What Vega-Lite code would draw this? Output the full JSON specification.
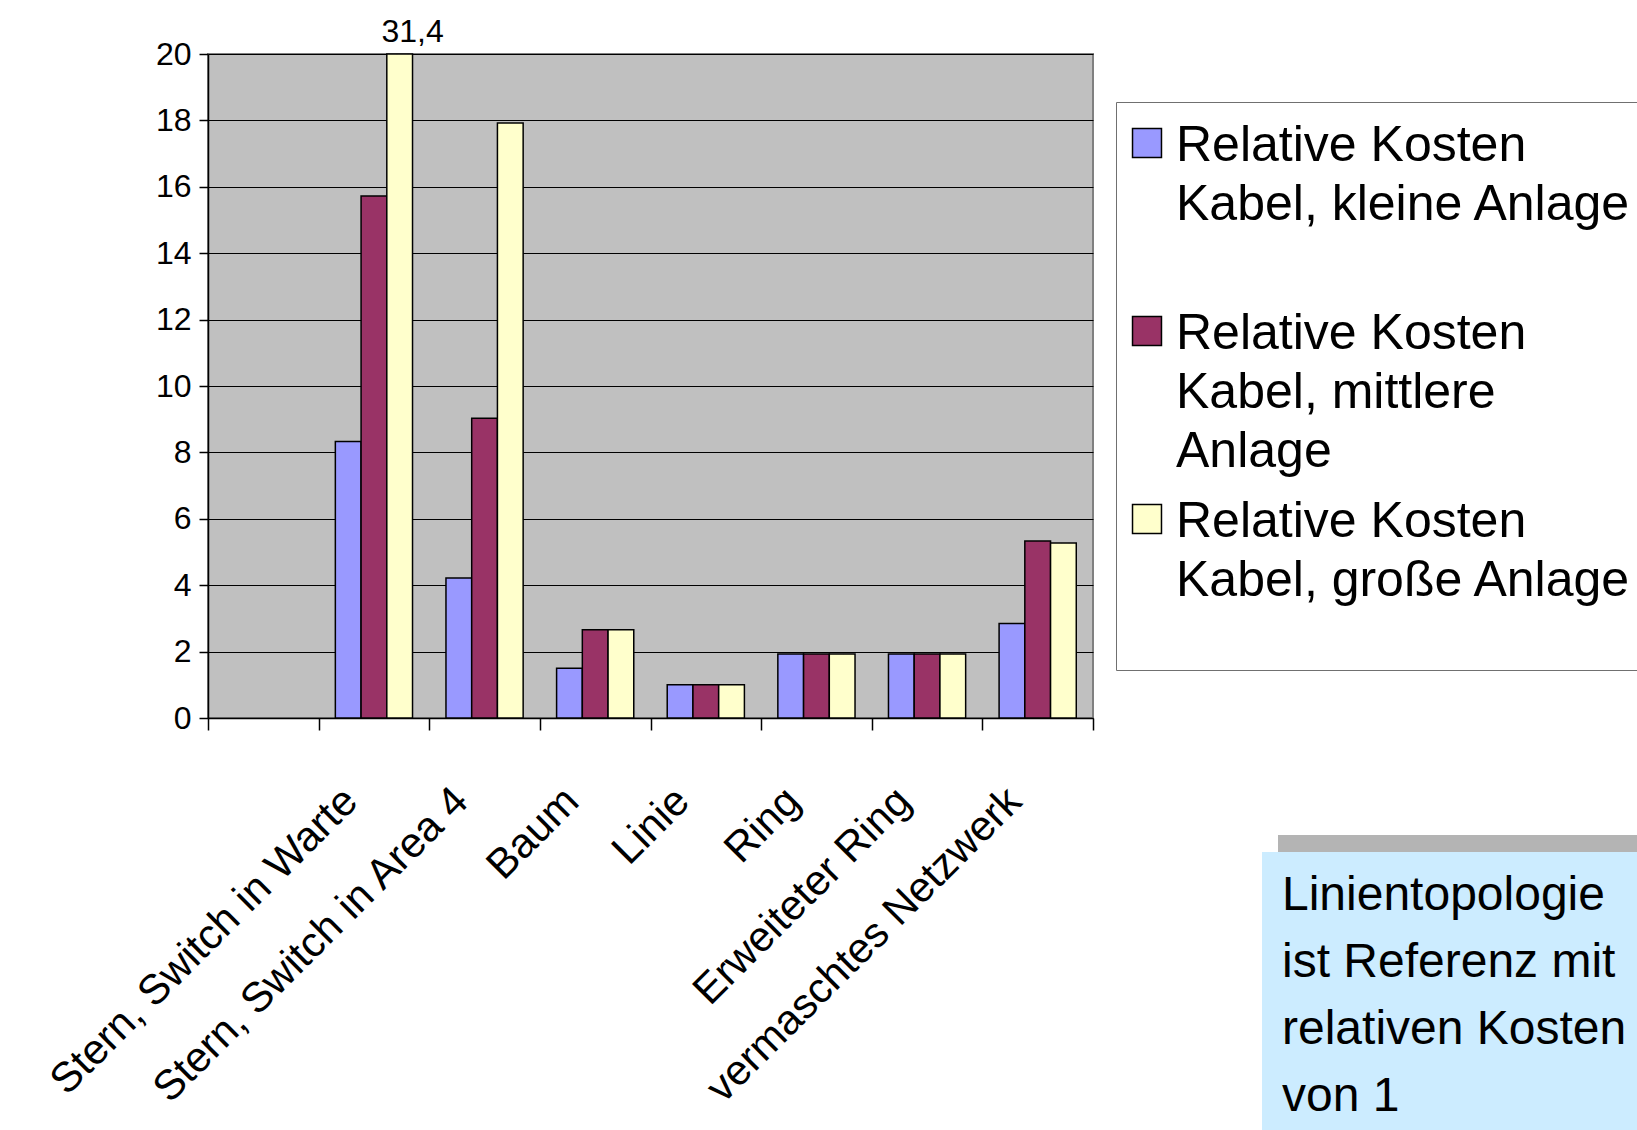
{
  "$schema": "https://vega.github.io/schema/vega-lite/v6.json",
  "description": "Relative Kabelkosten je Netzwerktopologie, drei Anlagengrößen",
  "width": 885,
  "height": 664,
  "autosize": {"type": "none"},
  "padding": {"left": 208, "top": 54, "right": 544, "bottom": 412},
  "background": "white",
  "data": {
    "values": [
      {"Kategorie": "Stern, Switch in Warte", "Serie": "klein", "Wert": 8.33},
      {"Kategorie": "Stern, Switch in Warte", "Serie": "mittel", "Wert": 15.72},
      {"Kategorie": "Stern, Switch in Warte", "Serie": "groß", "Wert": 31.4},
      {"Kategorie": "Stern, Switch in Area 4", "Serie": "klein", "Wert": 4.22},
      {"Kategorie": "Stern, Switch in Area 4", "Serie": "mittel", "Wert": 9.03},
      {"Kategorie": "Stern, Switch in Area 4", "Serie": "groß", "Wert": 17.92},
      {"Kategorie": "Baum", "Serie": "klein", "Wert": 1.5},
      {"Kategorie": "Baum", "Serie": "mittel", "Wert": 2.66},
      {"Kategorie": "Baum", "Serie": "groß", "Wert": 2.66},
      {"Kategorie": "Linie", "Serie": "klein", "Wert": 1},
      {"Kategorie": "Linie", "Serie": "mittel", "Wert": 1},
      {"Kategorie": "Linie", "Serie": "groß", "Wert": 1},
      {"Kategorie": "Ring", "Serie": "klein", "Wert": 1.93},
      {"Kategorie": "Ring", "Serie": "mittel", "Wert": 1.93},
      {"Kategorie": "Ring", "Serie": "groß", "Wert": 1.93},
      {"Kategorie": "Erweiteter Ring", "Serie": "klein", "Wert": 1.93},
      {"Kategorie": "Erweiteter Ring", "Serie": "mittel", "Wert": 1.93},
      {"Kategorie": "Erweiteter Ring", "Serie": "groß", "Wert": 1.93},
      {"Kategorie": "vermaschtes Netzwerk", "Serie": "klein", "Wert": 2.85},
      {"Kategorie": "vermaschtes Netzwerk", "Serie": "mittel", "Wert": 5.33},
      {"Kategorie": "vermaschtes Netzwerk", "Serie": "groß", "Wert": 5.27}
    ]
  },
  "layer": [
    {
      "mark": {"type": "bar", "stroke": "black", "strokeWidth": 1.5},
      "encoding": {
        "x": {
          "field": "Kategorie",
          "type": "nominal",
          "scale": {
            "domain": [" ", "Stern, Switch in Warte", "Stern, Switch in Area 4", "Baum", "Linie", "Ring", "Erweiteter Ring", "vermaschtes Netzwerk"],
            "paddingInner": 0,
            "paddingOuter": 0
          },
          "axis": {
            "title": null,
            "labelAngle": -45,
            "labelAlign": "right",
            "labelBaseline": "top",
            "labelFontSize": 42,
            "labelPadding": 50,
            "labelOffset": -38,
            "labelLimit": 1000,
            "labelOverlap": false,
            "tickBand": "extent",
            "tickSize": 12,
            "tickColor": "black",
            "tickWidth": 1.5,
            "domainColor": "black",
            "domainWidth": 1.5,
            "grid": false
          }
        },
        "xOffset": {
          "field": "Serie",
          "type": "nominal",
          "scale": {"domain": ["klein", "mittel", "groß"], "paddingInner": 0, "paddingOuter": 0.65}
        },
        "y": {
          "field": "Wert",
          "type": "quantitative",
          "scale": {"domain": [0, 20], "nice": false, "clamp": true},
          "axis": {
            "title": null,
            "values": [0, 2, 4, 6, 8, 10, 12, 14, 16, 18, 20],
            "labelFontSize": 32,
            "labelPadding": 8,
            "tickSize": 9,
            "tickColor": "black",
            "tickWidth": 1.5,
            "domainColor": "black",
            "domainWidth": 1.5,
            "grid": true,
            "gridColor": "black",
            "gridWidth": 1
          }
        },
        "color": {
          "field": "Serie",
          "type": "nominal",
          "scale": {"domain": ["klein", "mittel", "groß"], "range": ["#9999FF", "#993366", "#FFFFCC"]},
          "legend": {
            "title": null,
            "orient": "none",
            "legendX": 908,
            "legendY": 48,
            "padding": 5,
            "fillColor": "white",
            "strokeColor": "#707070",
            "symbolType": "M-0.272,-0.61L0.272,-0.61L0.272,-0.066L-0.272,-0.066Z",
            "symbolSize": 11342,
            "symbolOffset": -28,
            "symbolStrokeColor": "black",
            "symbolStrokeWidth": 1.5,
            "symbolOpacity": 1,
            "labelFontSize": 50,
            "labelBaseline": "alphabetic",
            "labelOffset": -25,
            "labelLimit": 1000,
            "rowPadding": 6,
            "labelExpr": "datum.label == 'klein' ? ['Relative Kosten', 'Kabel, kleine Anlage\u00a0\u00a0\u00a0', ''] : datum.label == 'mittel' ? ['Relative Kosten', 'Kabel, mittlere', 'Anlage'] : ['Relative Kosten', 'Kabel, große Anlage', '']"
          }
        },
        "stroke": {
          "datum": "Schatten",
          "scale": {"range": ["black"]},
          "legend": {
            "title": ["Linientopologie", "ist Referenz mit", "relativen Kosten", "von 1"],
            "titleOpacity": 0,
            "orient": "none",
            "legendX": 1070,
            "legendY": 781,
            "padding": 20,
            "fillColor": "#B4B4B4",
            "titleFontSize": 48,
            "titleFontWeight": "normal",
            "titleLineHeight": 67,
            "titleLimit": 1000,
            "titleBaseline": "top",
            "titlePadding": 0,
            "labelExpr": "''",
            "symbolOpacity": 0,
            "symbolSize": 1,
            "symbolStrokeWidth": 0
          }
        },
        "strokeDash": {
          "datum": "Hinweis",
          "scale": {"range": [[1, 0]]},
          "legend": {
            "title": ["Linientopologie", "ist Referenz mit", "relativen Kosten", "von 1"],
            "orient": "none",
            "legendX": 1054,
            "legendY": 798,
            "padding": 20,
            "fillColor": "#CCECFF",
            "titleFontSize": 48,
            "titleFontWeight": "normal",
            "titleLineHeight": 67,
            "titleLimit": 1000,
            "titleBaseline": "top",
            "titlePadding": 0,
            "labelExpr": "''",
            "symbolOpacity": 0,
            "symbolSize": 1,
            "symbolStrokeWidth": 0
          }
        }
      }
    },
    {
      "transform": [{"filter": "datum.Wert > 20"}],
      "mark": {"type": "text", "baseline": "alphabetic", "dy": -12, "dx": 13, "fontSize": 32, "color": "black"},
      "encoding": {
        "x": {"field": "Kategorie", "type": "nominal"},
        "xOffset": {"field": "Serie", "type": "nominal"},
        "y": {"field": "Wert", "type": "quantitative"},
        "text": {"field": "Wert", "type": "quantitative", "format": ".1f"}
      }
    }
  ],
  "config": {
    "font": "Liberation Sans",
    "locale": {"number": {"decimal": ",", "thousands": ".", "grouping": [3], "currency": ["", " €"]}},
    "view": {"fill": "#C0C0C0", "stroke": "#808080", "strokeWidth": 2},
    "style": {"guide-label": {"lineHeight": 59}},
    "axis": {"labelColor": "black"},
    "legend": {"labelColor": "black", "titleColor": "black"}
  }
}
